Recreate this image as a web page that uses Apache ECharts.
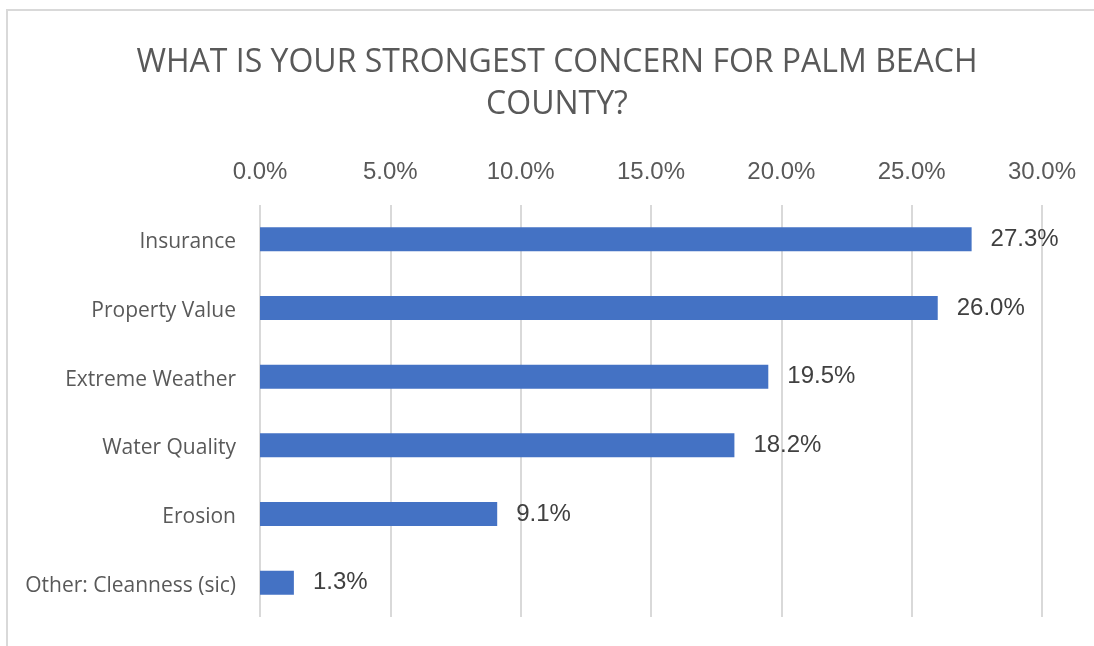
<!DOCTYPE html>
<html>
<head>
    <meta charset="utf-8">
    <title>Palm Beach County concerns</title>
    <script src="https://cdn.jsdelivr.net/npm/echarts@6/dist/echarts.min.js"></script>
    <style>
        html, body { margin: 0; padding: 0; background: #fff; }
        #chart { width: 1094px; height: 646px; }
    </style>
</head>
<body>
    <div id="chart"></div>
    <script>
        var categories = ['Insurance', 'Property Value', 'Extreme Weather', 'Water Quality', 'Erosion', 'Other: Cleanness (sic)'];
        var shares = [27.3, 26.0, 19.5, 18.2, 9.1, 1.3];
        var tickLabels = ['0.0%', '5.0%', '10.0%', '15.0%', '20.0%', '25.0%', '30.0%'];

        var myChart = echarts.init(document.getElementById('chart'));
        var option = {
            backgroundColor: '#fff',
            animation: false,
            title: {
                text: 'WHAT IS YOUR STRONGEST CONCERN FOR PALM BEACH\nCOUNTY?',
                left: 552,
                textAlign: 'center',
                top: 37,
                textStyle: {
                    fontFamily: 'Open Sans',
                    fontWeight: 'normal',
                    fontSize: 32,
                    lineHeight: 42,
                    color: '#595959'
                }
            },
            // light frame of the chart area
            graphic: [{
                type: 'rect',
                shape: { x: 7, y: 10, width: 1200, height: 800 },
                style: { fill: 'none', stroke: '#d9d9d9', lineWidth: 2 },
                silent: true
            }],
            grid: { left: 260, right: 52, top: 205, bottom: 29 },
            xAxis: {
                type: 'value',
                position: 'top',
                min: 0,
                max: 30,
                interval: 5,
                axisLine: { show: false },
                axisTick: { show: false },
                axisLabel: {
                    margin: 21,
                    fontFamily: 'Liberation Sans',
                    fontSize: 24,
                    color: '#595959',
                    formatter: function (v) { return tickLabels[Math.round(v / 5)]; }
                },
                splitLine: { lineStyle: { color: '#d9d9d9', width: 2 } }
            },
            yAxis: {
                type: 'category',
                inverse: true,
                data: categories,
                axisLine: { show: false },
                axisTick: { show: false },
                axisLabel: {
                    margin: 24,
                    formatter: function (v) { return '{c|' + v + '}'; },
                    rich: {
                        c: {
                            padding: [6, 0, 0, 0],
                            fontFamily: 'Open Sans',
                            fontSize: 21,
                            color: '#595959'
                        }
                    }
                }
            },
            series: [{
                type: 'bar',
                data: shares,
                barWidth: '35%',
                itemStyle: { color: '#4472c4' },
                label: {
                    show: true,
                    position: 'right',
                    distance: 19,
                    fontFamily: 'Liberation Sans',
                    fontSize: 24,
                    color: '#404040',
                    formatter: function (p) { return p.value.toFixed(1) + '%'; }
                }
            }]
        };
        myChart.setOption(option);
    </script>
</body>
</html>
